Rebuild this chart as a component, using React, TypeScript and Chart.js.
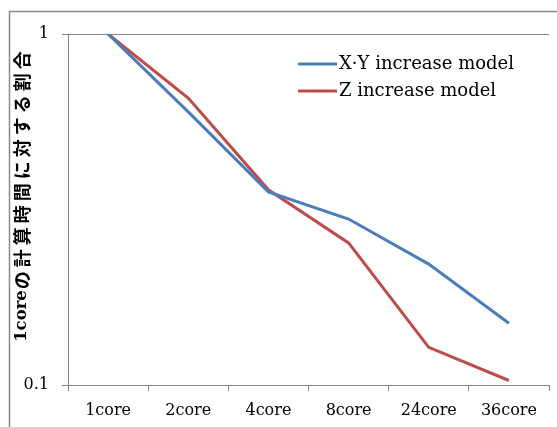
import { useEffect, useRef } from "react";
import { Chart, registerables } from "chart.js";

Chart.register(...registerables);

const categories = ["1core", "2core", "4core", "8core", "24core", "36core"];
const xyIncrease = [1, 0.6, 0.355, 0.297, 0.221, 0.15];
const zIncrease = [1, 0.657, 0.36, 0.254, 0.128, 0.103];
const yTickValues = [0.1, 1];
const seriesLabels = ["X·Y increase model", "Z increase model"];
const yTitle = "1coreの計算時間に対する割合";

const GREY = "#868686";
const BLUE = "#4a7ebb";
const RED = "#be4b48";

const framePlugin = {
  id: "frame",
  beforeDraw(chart: any) {
    const ctx = chart.ctx;
    ctx.save();
    ctx.strokeStyle = "#8a8a8a";
    ctx.lineWidth = 1.5;
    ctx.strokeRect(9.5, 11.5, 700, 600);
    ctx.restore();
  },
};

const titlePlugin = {
  id: "yTitle",
  afterDraw(chart: any) {
    const ctx = chart.ctx;
    const m = yTitle.match(/^[\x00-\x7f]+/);
    const latin = m ? m[0] : "";
    const cjk = yTitle.slice(latin.length);
    const latinFont = "bold 16.5px 'DejaVu Serif'";
    const cjkFont = "bold 18px 'Noto Sans CJK JP'";
    const spacing = 4;
    ctx.save();
    ctx.font = latinFont;
    const wl = ctx.measureText(latin).width;
    ctx.font = cjkFont;
    (ctx as any).letterSpacing = spacing + "px";
    const wc = ctx.measureText(cjk).width;
    const total = wl + wc;
    ctx.translate(22, 195);
    ctx.rotate(-Math.PI / 2);
    ctx.fillStyle = "#000";
    ctx.textAlign = "left";
    ctx.textBaseline = "middle";
    (ctx as any).letterSpacing = "0px";
    ctx.font = latinFont;
    ctx.fillText(latin, -total / 2, 0);
    ctx.font = cjkFont;
    (ctx as any).letterSpacing = spacing + "px";
    ctx.fillText(cjk, -total / 2 + wl + 1, 0);
    ctx.restore();
  },
};

const legendPlugin = {
  id: "customLegend",
  afterDraw(chart: any) {
    const ctx = chart.ctx;
    ctx.save();
    chart.data.datasets.forEach((ds: any, i: number) => {
      const y = 64 + i * 27;
      ctx.strokeStyle = ds.borderColor;
      ctx.lineWidth = 3;
      ctx.beginPath();
      ctx.moveTo(298, y);
      ctx.lineTo(337, y);
      ctx.stroke();
      ctx.fillStyle = "#000";
      ctx.font = "18px 'DejaVu Serif'";
      ctx.textBaseline = "middle";
      ctx.textAlign = "left";
      ctx.fillText(ds.label, 339, y);
    });
    ctx.restore();
  },
};

export default function App() {
  const ref = useRef<HTMLCanvasElement | null>(null);

  useEffect(() => {
    document.body.style.margin = "0";
    if (!ref.current) return;
    const chart = new Chart(ref.current, {
      type: "line",
      data: {
        labels: categories,
        datasets: [
          {
            label: seriesLabels[0],
            data: xyIncrease,
            borderColor: BLUE,
            backgroundColor: BLUE,
            borderWidth: 3,
            pointRadius: 0,
            tension: 0,
          },
          {
            label: seriesLabels[1],
            data: zIncrease,
            borderColor: RED,
            backgroundColor: RED,
            borderWidth: 3,
            pointRadius: 0,
            tension: 0,
          },
        ],
      },
      options: {
        animation: false,
        responsive: false,
        layout: { padding: { left: 0, top: 34, right: 8, bottom: 0 } },
        plugins: {
          legend: { display: false },
          tooltip: { enabled: false },
        },
        scales: {
          x: {
            type: "category",
            offset: true,
            grid: {
              offset: true,
              drawOnChartArea: false,
              color: GREY,
              tickLength: 6,
            },
            border: { color: GREY, width: 1 },
            ticks: {
              font: { family: "'DejaVu Serif'", size: 16 },
              color: "#000",
              padding: 10,
              maxRotation: 0,
            },
            afterFit(scale: any) {
              scale.height = 42;
            },
          },
          y: {
            type: "logarithmic",
            min: 0.1,
            max: 1,
            afterBuildTicks(scale: any) {
              scale.ticks = yTickValues.map((v) => ({ value: v }));
            },
            ticks: {
              font: { family: "'DejaVu Serif'", size: 16 },
              color: "#000",
              padding: 13,
              callback: (v: any) => String(v),
            },
            grid: { color: GREY, tickLength: 6 },
            border: { color: GREY, width: 1 },
            title: { display: false },
            afterFit(scale: any) {
              scale.width = 68;
            },
          },
        },
      },
      plugins: [framePlugin, legendPlugin, titlePlugin],
    });
    return () => chart.destroy();
  }, []);

  return (
    <div style={{ width: 557, height: 427 }}>
      <canvas ref={ref} width={557} height={427} />
    </div>
  );
}
